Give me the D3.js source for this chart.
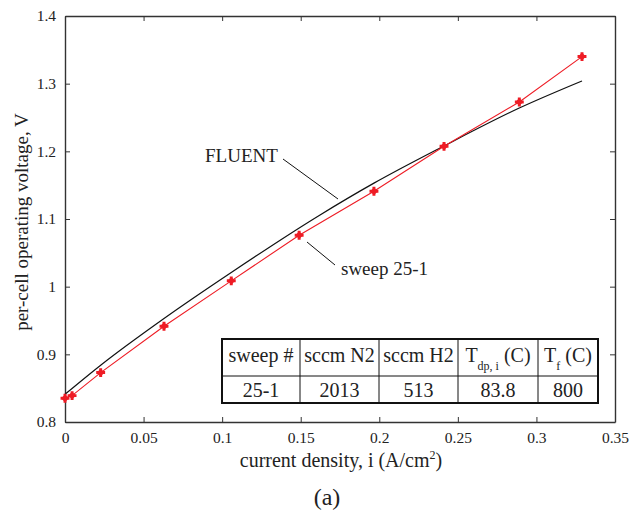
<!DOCTYPE html>
<html>
<head>
<meta charset="utf-8">
<script src="https://cdn.jsdelivr.net/npm/d3@7"></script>
<style>
  body { margin: 0; background: #fff; }
</style>
</head>
<body>
<script>
// measured sweep 25-1
const sweepX = [0, 0.0045, 0.0227, 0.063, 0.1058, 0.149, 0.1966, 0.2412, 0.2891, 0.329];
const sweepY = [0.835, 0.839, 0.873, 0.9416, 1.0086, 1.076, 1.141, 1.2074, 1.273, 1.340];
// FLUENT model
const fluentX = [0, 0.0227, 0.063, 0.1058, 0.1623, 0.1966, 0.2412, 0.2891, 0.329];
const fluentY = [0.841, 0.884, 0.953, 1.021, 1.106, 1.153, 1.208, 1.264, 1.304];

const xTicks = [0, 0.05, 0.1, 0.15, 0.2, 0.25, 0.3, 0.35];
const yTicks = [0.8, 0.9, 1, 1.1, 1.2, 1.3, 1.4];

const tableHead = ['sweep #', 'sccm N2', 'sccm H2', 'T_dp, i (C)', 'T_f (C)'];
const tableRow = ['25-1', '2013', '513', '83.8', '800'];

const W = 629, H = 510;
const margin = {left: 65, top: 16, right: 14, bottom: 88};
const serif = 'Liberation Serif';
const ink = '#222';

const svg = d3.select('body').append('svg')
    .attr('width', W)
    .attr('height', H)
    .attr('font-family', serif);

const x = d3.scaleLinear().domain([0, 0.35]).range([margin.left, W - margin.right]);
const y = d3.scaleLinear().domain([0.8, 1.4]).range([H - margin.bottom, margin.top]);

const axisCol = '#333';
const fmt = d => String(d);

// axes: ticks point inwards on all four sides
const gx = svg.append('g').attr('transform', `translate(0,${y(0.8)})`)
    .call(d3.axisBottom(x).tickValues(xTicks).tickFormat(fmt).tickSizeInner(-5).tickSizeOuter(0).tickPadding(9));
const gxt = svg.append('g').attr('transform', `translate(0,${y(1.4)})`)
    .call(d3.axisTop(x).tickValues(xTicks).tickFormat('').tickSizeInner(-5).tickSizeOuter(0));
const gy = svg.append('g').attr('transform', `translate(${x(0)},0)`)
    .call(d3.axisLeft(y).tickValues(yTicks).tickFormat(fmt).tickSizeInner(-5).tickSizeOuter(0).tickPadding(9));
const gyr = svg.append('g').attr('transform', `translate(${x(0.35)},0)`)
    .call(d3.axisRight(y).tickValues(yTicks).tickFormat('').tickSizeInner(-5).tickSizeOuter(0));

[gx, gxt, gy, gyr].forEach(g => {
    g.attr('font-family', serif).attr('font-size', 15.5);
    g.select('.domain').attr('stroke', axisCol).attr('stroke-width', 1.4);
    g.selectAll('.tick line').attr('stroke', axisCol).attr('stroke-width', 1);
    g.selectAll('.tick text').attr('fill', ink);
});
gx.selectAll('.tick text').attr('dy', '0.75em');

// lines
const fluent = fluentX.map((v, i) => [v, fluentY[i]]);
const sweep = sweepX.map((v, i) => [v, sweepY[i]]);

svg.append('path').datum(fluent)
    .attr('d', d3.line().x(d => x(d[0])).y(d => y(d[1])).curve(d3.curveMonotoneX))
    .attr('fill', 'none').attr('stroke', '#111').attr('stroke-width', 1.2);

svg.append('path').datum(sweep)
    .attr('d', d3.line().x(d => x(d[0])).y(d => y(d[1])))
    .attr('fill', 'none').attr('stroke', '#ee1c25').attr('stroke-width', 1.1);

const marks = svg.append('g').selectAll('g')
    .data(sweep)
    .enter().append('g')
    .attr('transform', d => `translate(${x(d[0])},${y(d[1])})`)
    .attr('fill', '#ee1c25');
marks.append('path').attr('d', d3.symbol().type(d3.symbolCross).size(44));
marks.append('path').attr('transform', 'rotate(45)').attr('d', d3.symbol().type(d3.symbolSquare).size(30));

// annotations
const txt = (xx, yy, s, size) => svg.append('text').attr('x', xx).attr('y', yy)
    .attr('font-size', size).attr('fill', ink).text(s);

txt(205, 162, 'FLUENT', 19);
svg.append('line').attr('x1', 283).attr('y1', 159).attr('x2', 338).attr('y2', 199)
    .attr('stroke', '#111').attr('stroke-width', 1);

txt(341, 275, 'sweep 25-1', 19);
svg.append('line').attr('x1', 307).attr('y1', 242).attr('x2', 335).attr('y2', 265)
    .attr('stroke', '#111').attr('stroke-width', 1);

// axis titles
const xl = svg.append('text').attr('x', 341).attr('y', 467)
    .attr('text-anchor', 'middle').attr('font-size', 20).attr('fill', ink);
xl.append('tspan').text('current density, i (A/cm');
xl.append('tspan').attr('dy', -8).attr('font-size', 12).text('2');
xl.append('tspan').attr('dy', 8).text(')');

svg.append('text')
    .attr('transform', 'translate(28,222) rotate(-90)')
    .attr('text-anchor', 'middle').attr('font-size', 19).attr('fill', ink)
    .text('per-cell operating voltage, V');

svg.append('text').attr('x', 327).attr('y', 505)
    .attr('text-anchor', 'middle').attr('font-size', 24).attr('fill', ink).text('(a)');

// parameter table
const colEdges = [222, 300, 379, 458, 538, 598];
const rowEdges = [339, 376, 403];
const tbl = svg.append('g');
tbl.append('rect')
    .attr('x', colEdges[0]).attr('y', rowEdges[0])
    .attr('width', colEdges[5] - colEdges[0]).attr('height', rowEdges[2] - rowEdges[0])
    .attr('fill', '#fff').attr('stroke', '#111').attr('stroke-width', 2);
tbl.append('line').attr('x1', colEdges[0]).attr('x2', colEdges[5])
    .attr('y1', rowEdges[1]).attr('y2', rowEdges[1])
    .attr('stroke', '#111').attr('stroke-width', 1);
colEdges.slice(1, 5).forEach(c => {
    tbl.append('line').attr('x1', c).attr('x2', c)
        .attr('y1', rowEdges[0]).attr('y2', rowEdges[2])
        .attr('stroke', '#111').attr('stroke-width', 1);
});

function cellText(s, cx, yy) {
    const t = tbl.append('text').attr('x', cx).attr('y', yy)
        .attr('text-anchor', 'middle').attr('font-size', 20).attr('fill', ink);
    const m = s.match(/^T_(.+?) \(C\)$/);
    if (m) {
        t.append('tspan').text('T');
        t.append('tspan').attr('dy', 8).attr('font-size', 12).text(m[1]);
        t.append('tspan').attr('dy', -8).text(' (C)');
    } else {
        t.text(s);
    }
}
tableHead.forEach((h, i) => cellText(h, (colEdges[i] + colEdges[i + 1]) / 2, 362));
tableRow.forEach((h, i) => cellText(h, (colEdges[i] + colEdges[i + 1]) / 2, 397));
</script>
</body>
</html>
